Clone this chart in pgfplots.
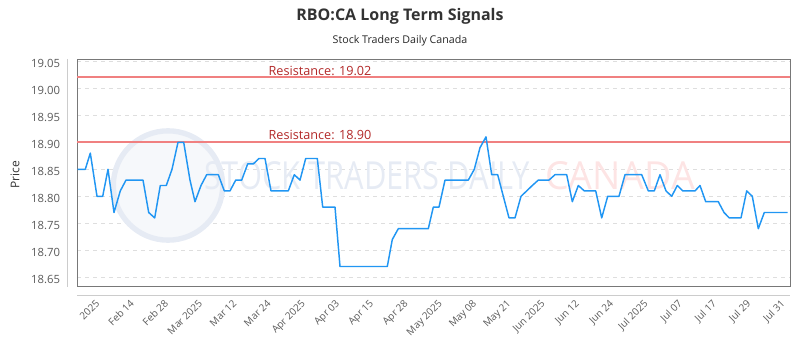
\documentclass[border=0pt]{standalone}
\usepackage{pgfplots}
\pgfplotsset{compat=1.18}
\usepackage{fontspec}
\setmainfont{Open Sans}
\definecolor{linec}{RGB}{33,150,243}
\definecolor{resc}{RGB}{240,128,128}
\definecolor{restext}{RGB}{178,40,40}
\definecolor{boxc}{RGB}{120,120,120}
\definecolor{axc}{RGB}{204,204,204}
\definecolor{tickc}{RGB}{90,90,90}
\definecolor{gridc}{RGB}{222,222,222}
\definecolor{wmblue}{RGB}{230,235,244}
\definecolor{wmred}{RGB}{253,228,228}
\begin{document}
\begin{tikzpicture}
\path[use as bounding box] (0pt,0pt) rectangle (600pt,262.5pt);
\node[font=\bfseries\fontsize{12}{14}\selectfont, text=black!80] at (300pt,250.5pt) {RBO:CA Long Term Signals};
\node[font=\fontsize{8}{10}\selectfont, text=black!85] at (300pt,231.75pt) {Stock Traders Daily Canada};
\node[font=\fontsize{9}{11}\selectfont, text=black!80, rotate=90] at (11.25pt,131.25pt) {Price};
\draw[axc, line width=0.75pt] (50.6pt,218.25pt) -- (50.6pt,47.25pt);
\draw[axc, line width=0.75pt] (57.75pt,40.5pt) -- (592.5pt,40.5pt);
\begin{axis}[
  at={(57.75pt,48pt)}, anchor=south west,
  scale only axis, width=534.75pt, height=170.25pt,
  xmin=77, xmax=790, ymin=18.63389, ymax=19.05426,
  axis line style={boxc, line width=0.6pt},
  major tick length=0pt,
  ytick={18.65,18.70,18.75,18.80,18.85,18.90,18.95,19.00,19.05},
  yticklabel style={/pgf/number format/fixed, /pgf/number format/fixed zerofill, /pgf/number format/precision=2, font=\fontsize{8.5}{10}\selectfont, text=tickc, anchor=east, inner sep=0pt, xshift=-12.5pt, yshift=-1.5pt},
  /pgf/number format/assume math mode=true,
  ymajorgrids, grid style={gridc, dashed, line width=0.5pt},
  xtick={98.30,132.55,166.80,201.05,235.30,269.55,303.80,338.05,372.30,406.55,440.80,475.05,509.30,543.55,577.80,612.05,646.30,680.55,714.80,749.05,783.30},
  xticklabels={2025,Feb 14,Feb 28,Mar 2025,Mar 12,Mar 24,Apr 2025,Apr 03,Apr 15,Apr 28,May 2025,May 08,May 21,Jun 2025,Jun 12,Jun 24,Jul 2025,Jul 07,Jul 17,Jul 29,Jul 31},
  xticklabel style={font=\fontsize{7.5}{9}\selectfont, text=tickc, xshift=-2.5pt, rotate=45, anchor=north east, inner sep=0pt},
  xticklabel shift=9.5pt,
  clip=true,
]
% watermark
\draw[wmblue, line width=4pt, fill=wmblue!35] (axis cs:168,18.820) circle[radius=41pt];
\node[text=wmblue, inner sep=0pt] at (axis cs:367.5,18.8376) {\resizebox{243.75pt}{21pt}{STOCK TRADERS DAILY}};
\node[text=wmred, inner sep=0pt] at (axis cs:620,18.8376) {\resizebox{112.5pt}{21pt}{CANADA}};
% resistance lines
\addplot[resc, line width=1.5pt] coordinates {(77,19.02) (790,19.02)};
\addplot[resc, line width=1.5pt] coordinates {(77,18.90) (790,18.90)};
\node[font=\fontsize{9.5}{11}\selectfont, text=restext, anchor=south, inner sep=1.5pt] at (axis cs:320,19.02) {Resistance: 19.02};
\node[font=\fontsize{9.5}{11}\selectfont, text=restext, anchor=south, inner sep=1.5pt] at (axis cs:320,18.90) {Resistance: 18.90};
% price
\addplot[linec, line width=1.1pt, line join=round] coordinates {
(77.7,18.85) (85.3,18.85) (90.3,18.88) (97,18.80) (102.7,18.80) (108,18.85) (114,18.77) (120.3,18.81) (126,18.83) (143,18.83)
(148.7,18.77) (154.7,18.76) (160.3,18.82) (166.3,18.82) (172,18.85) (178,18.90) (183.7,18.90) (190,18.83) (195,18.79) (201,18.82)
(206.7,18.84) (218.3,18.84) (224.3,18.81) (230,18.81) (235.7,18.83) (241.7,18.83) (247.7,18.86) (253.3,18.86) (259,18.87) (265,18.87)
(271,18.81) (288.3,18.81) (294.3,18.84) (300,18.83) (305.7,18.87) (317.3,18.87) (322.7,18.78) (335,18.78) (340,18.67) (387.3,18.67)
(392.3,18.72) (398.3,18.74) (428.3,18.74) (433.3,18.78) (439,18.78) (445,18.83) (468.3,18.83) (474.3,18.85) (480,18.89) (486,18.91)
(491.7,18.84) (497.7,18.84) (503.3,18.80) (509,18.76) (515,18.76) (521,18.80) (526.7,18.81) (532.3,18.82) (538.3,18.83) (549,18.83)
(555,18.84) (566.7,18.84) (572.3,18.79) (578.3,18.82) (584.3,18.81) (595.7,18.81) (601.7,18.76) (607.7,18.80) (619,18.80) (625,18.84)
(641.7,18.84) (648.3,18.81) (654.3,18.81) (660,18.84) (666,18.81) (671.7,18.80) (677.3,18.82) (682.7,18.81) (695,18.81) (700,18.82)
(705.7,18.79) (718.3,18.79) (724,18.77) (729.3,18.76) (741,18.76) (746.7,18.81) (752.3,18.80) (758.3,18.74) (764.3,18.77) (787.7,18.77)
};
\end{axis}
\end{tikzpicture}
\end{document}
